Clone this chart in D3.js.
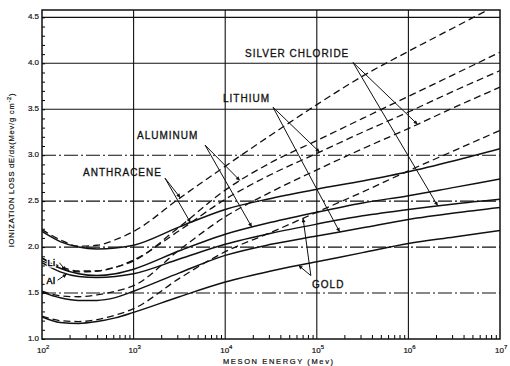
<!DOCTYPE html>
<html>
<head>
<meta charset="utf-8">
<script src="https://cdn.jsdelivr.net/npm/d3@7"></script>
<style>
  body { margin: 0; background: #fff; }
  text { font-family: "Liberation Sans", Arial, sans-serif; fill: #111; }
</style>
</head>
<body>
<div id="chart"></div>
<script>
// Meson energy samples (Mev)
var energies = [100, 158, 251, 398, 631, 1000, 3162, 10000, 31623, 100000, 316228, 1000000, 3162278, 10000000];

// Solid curves
var anthraceneSolid = [2.17, 2.06, 2.00, 1.98, 1.99, 2.02, 2.22, 2.41, 2.53, 2.63, 2.72, 2.82, 2.94, 3.07];
var lithiumSolid    = [1.88, 1.77, 1.71, 1.69, 1.71, 1.76, 1.96, 2.14, 2.27, 2.38, 2.48, 2.56, 2.65, 2.74];
var aluminumSolid   = [1.83, 1.73, 1.68, 1.67, 1.68, 1.71, 1.87, 2.03, 2.15, 2.25, 2.34, 2.41, 2.47, 2.52];
var silverSolid     = [1.51, 1.45, 1.42, 1.42, 1.45, 1.52, 1.72, 1.91, 2.03, 2.12, 2.21, 2.30, 2.37, 2.43];
var goldSolid       = [1.24, 1.18, 1.17, 1.19, 1.23, 1.29, 1.46, 1.62, 1.74, 1.84, 1.94, 2.04, 2.11, 2.18];

// Dashed curves
var anthraceneDashed = [2.19, 2.08, 2.01, 2.02, 2.08, 2.17, 2.53, 2.88, 3.22, 3.55, 3.86, 4.13, 4.39, 4.65];
var aluminumDashed   = [1.85, 1.77, 1.73, 1.74, 1.78, 1.85, 2.22, 2.62, 2.92, 3.16, 3.40, 3.64, 3.88, 4.12];
var lithiumDashed    = [1.88, 1.79, 1.74, 1.74, 1.78, 1.86, 2.18, 2.52, 2.79, 3.02, 3.25, 3.47, 3.70, 3.92];
var silverDashed     = [1.52, 1.47, 1.46, 1.48, 1.52, 1.58, 1.97, 2.33, 2.60, 2.84, 3.07, 3.29, 3.52, 3.74];
var goldDashed       = [1.25, 1.20, 1.19, 1.21, 1.26, 1.33, 1.66, 1.95, 2.16, 2.38, 2.60, 2.83, 3.05, 3.27];

// Tick labels
var decadeTicks = [1e2, 1e3, 1e4, 1e5, 1e6, 1e7];
var decadeExps  = ["2", "3", "4", "5", "6", "7"];
var lossTicks   = [1.0, 1.5, 2.0, 2.5, 3.0, 3.5, 4.0, 4.5];

var curves = [
  {key: "anthS", values: anthraceneSolid, dashed: false},
  {key: "liS",   values: lithiumSolid,    dashed: false},
  {key: "alS",   values: aluminumSolid,   dashed: false},
  {key: "agS",   values: silverSolid,     dashed: false},
  {key: "auS",   values: goldSolid,       dashed: false},
  {key: "anthD", values: anthraceneDashed, dashed: true},
  {key: "alD",   values: aluminumDashed,   dashed: true},
  {key: "liD",   values: lithiumDashed,    dashed: true},
  {key: "agD",   values: silverDashed,     dashed: true},
  {key: "auD",   values: goldDashed,       dashed: true}
];

// Labels: anchor in data space (log10 energy, loss), arrow start, arrow targets on curves
var labels = [
  {text: "SILVER CHLORIDE", at: [4.216, 4.065], from: [5.395, 4.01], to: [["agD", 6.10], ["alS", 6.32]]},
  {text: "LITHIUM",         at: [3.976, 3.576], from: [4.522, 3.522], to: [["liD", 5.03], ["agS", 5.25]]},
  {text: "ALUMINUM",        at: [3.037, 3.174], from: [3.780, 3.110], to: [["alD", 4.16], ["liS", 4.29]]},
  {text: "ANTHRACENE",      at: [2.448, 2.770], from: [3.343, 2.750], to: [["anthD", 3.51], ["anthS", 3.62]]},
  {text: "GOLD",            at: [4.948, 1.554], from: [4.935, 1.690], to: [["auD", 4.85], ["auS", 4.80]]}
];
var sideLabels = [
  {text: "Li", at: [2.06, 1.79], from: [2.19, 1.83], to: [["liS", 2.26]]},
  {text: "Al", at: [2.05, 1.60], from: [2.17, 1.64], to: [["alS", 2.27]]}
];

var margin = {top: 10, right: 10, bottom: 27, left: 42},
    width = 510 - margin.left - margin.right,
    height = 366 - margin.top - margin.bottom;

var svg = d3.select("#chart")
  .append("svg")
    .attr("width", width + margin.left + margin.right)
    .attr("height", height + margin.top + margin.bottom)
  .append("g")
    .attr("transform", `translate(${margin.left},${margin.top})`);

var x = d3.scaleLog().domain([1e2, 1e7]).range([0, width]);
var y = d3.scaleLinear().domain([1.0, 4.58]).range([height, 0]);

svg.append("defs").append("clipPath").attr("id", "plot")
  .append("rect").attr("width", width).attr("height", height);

svg.select("defs").append("marker")
    .attr("id", "head")
    .attr("viewBox", "0 0 10 10")
    .attr("refX", 10).attr("refY", 5)
    .attr("markerWidth", 7).attr("markerHeight", 4)
    .attr("markerUnits", "userSpaceOnUse")
    .attr("orient", "auto")
  .append("path").attr("d", "M0,0L10,5L0,10Z").attr("fill", "#111");

// grid lines
svg.selectAll(".hgrid")
  .data(lossTicks.slice(1))
  .enter().append("line")
    .attr("x1", 0).attr("x2", width)
    .attr("y1", d => y(d)).attr("y2", d => y(d))
    .attr("stroke", "#111").attr("stroke-width", 1.1)
    .attr("stroke-dasharray", d => d <= 3.0 ? "14,3,2,3" : null);

svg.selectAll(".vgrid")
  .data(decadeTicks.slice(1, -1))
  .enter().append("line")
    .attr("x1", d => x(d)).attr("x2", d => x(d))
    .attr("y1", 0).attr("y2", height)
    .attr("stroke", "#111").attr("stroke-width", 1.1);

// minor ticks
var minorX = [];
decadeTicks.slice(0, -1).forEach(function(d) {
  for (var k = 2; k <= 9; k++) minorX.push(d * k);
});
svg.append("g")
  .attr("transform", `translate(0,${height})`)
  .call(d3.axisBottom(x).tickValues(minorX).tickSize(-4).tickFormat(""))
  .call(g => g.select(".domain").remove());

svg.append("g")
  .call(d3.axisLeft(y).tickValues(d3.range(10, 46).map(d => d / 10)).tickSize(-3).tickFormat(""))
  .call(g => g.select(".domain").remove());

// frame
svg.append("rect")
  .attr("width", width).attr("height", height)
  .attr("fill", "none").attr("stroke", "#111").attr("stroke-width", 1.5);

// curves
var line = d3.line()
  .x((d, i) => x(energies[i]))
  .y(d => y(d))
  .curve(d3.curveMonotoneX);

var paths = {};
svg.append("g").attr("clip-path", "url(#plot)")
  .selectAll("path")
  .data(curves)
  .enter().append("path")
    .attr("d", d => line(d.values))
    .attr("fill", "none")
    .attr("stroke", "#111")
    .attr("stroke-width", d => d.dashed ? 1.3 : 1.5)
    .attr("stroke-dasharray", d => d.dashed ? "7,4" : null)
    .each(function(d) { paths[d.key] = this; });

// point on a drawn curve at a given log energy
function pointOn(key, logE) {
  var p = paths[key], tx = x(Math.pow(10, logE));
  var lo = 0, hi = p.getTotalLength();
  for (var i = 0; i < 30; i++) {
    var mid = (lo + hi) / 2;
    if (p.getPointAtLength(mid).x < tx) lo = mid; else hi = mid;
  }
  var pt = p.getPointAtLength(lo);
  return [pt.x, pt.y];
}

function drawLabels(list, size, spacing, halo) {
  list.forEach(function(l) {
    var fx = x(Math.pow(10, l.from[0])), fy = y(l.from[1]);
    l.to.forEach(function(t) {
      var tip = pointOn(t[0], t[1]);
      svg.append("line")
        .attr("x1", fx).attr("y1", fy)
        .attr("x2", tip[0]).attr("y2", tip[1])
        .attr("stroke", "#111").attr("stroke-width", 1)
        .attr("marker-end", "url(#head)");
    });
    var t = svg.append("text")
      .attr("x", x(Math.pow(10, l.at[0])))
      .attr("y", y(l.at[1]))
      .attr("font-size", size)
      .attr("letter-spacing", spacing)
      .text(l.text);
    if (halo) {
      t.attr("stroke", "#fff").attr("stroke-width", 3).attr("paint-order", "stroke");
      svg.append("text")
        .attr("x", x(Math.pow(10, l.at[0])))
        .attr("y", y(l.at[1]))
        .attr("font-size", size)
        .attr("letter-spacing", spacing)
        .attr("stroke", "#111").attr("stroke-width", 0.3)
        .text(l.text);
    } else {
      t.attr("stroke", "#111").attr("stroke-width", 0.3);
    }
  });
}
drawLabels(labels, 10, 1, false);
drawLabels(sideLabels, 9, 0.5, true);

// y tick labels
svg.selectAll(".ylab")
  .data(lossTicks)
  .enter().append("text")
    .attr("x", -3)
    .attr("y", d => y(d) + 2)
    .attr("text-anchor", "end")
    .attr("font-size", 8)
    .attr("stroke", "#111").attr("stroke-width", 0.2)
    .text(d => d.toFixed(1));

// x tick labels
var xl = svg.selectAll(".xlab")
  .data(decadeTicks)
  .enter().append("text")
    .attr("x", d => x(d) - 5)
    .attr("y", height + 14)
    .attr("font-size", 8)
    .attr("stroke", "#111").attr("stroke-width", 0.2);
xl.append("tspan").text("10");
xl.append("tspan").attr("dy", -4).attr("font-size", 6).text((d, i) => decadeExps[i]);

// axis titles
svg.append("text")
  .attr("x", 181).attr("y", height + 25)
  .attr("font-size", 7.5)
  .attr("stroke", "#111").attr("stroke-width", 0.2)
  .attr("textLength", 110).attr("lengthAdjust", "spacing")
  .text("MESON  ENERGY  (Mev)");

var yt = svg.append("text")
  .attr("transform", `translate(${-28},${160}) rotate(-90)`)
  .attr("text-anchor", "middle")
  .attr("font-size", 7.5)
  .attr("letter-spacing", 0.8)
  .attr("stroke", "#111").attr("stroke-width", 0.2);
yt.append("tspan").text("IONIZATION  LOSS  dE/dx(Mev/g cm");
yt.append("tspan").attr("dy", -3).attr("font-size", 5.5).text("-2");
yt.append("tspan").attr("dy", 3).text(")");
</script>
</body>
</html>
